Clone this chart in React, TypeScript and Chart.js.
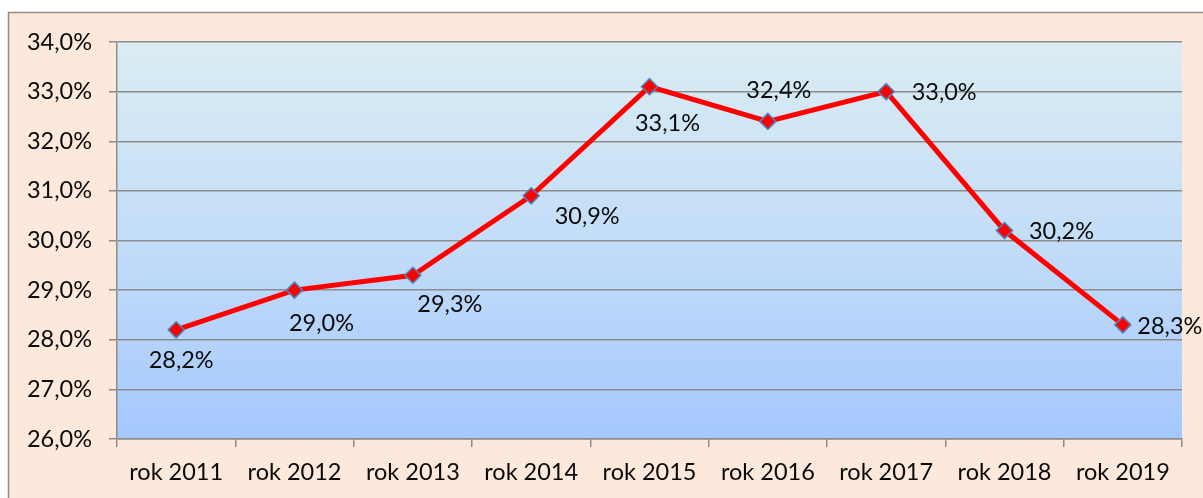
import React, { useEffect, useRef } from "react";
import { Chart, registerables } from "chart.js";

Chart.register(...registerables);

const categories = ["rok 2011", "rok 2012", "rok 2013", "rok 2014", "rok 2015", "rok 2016", "rok 2017", "rok 2018", "rok 2019"];
const values = [28.2, 29.0, 29.3, 30.9, 33.1, 32.4, 33.0, 30.2, 28.3];
const yMin = 26;
const yMax = 34;
const yStep = 1;
// label offsets relative to each point (dx, dy)
const labelOffsetX = [5, 27, 37, 56, 18, 11, 58, 57, 47];
const labelOffsetY = [31, 33, 29, 21, 37, -31, 1, 1, 2];

const FONT = "Lato, 'Open Sans', sans-serif";
const FS = 23.5;

const fmt = (v: number) => v.toFixed(1).replace(".", ",") + "%";

const bgPlugin = {
  id: "bgPlugin",
  beforeDraw(chart: any) {
    const { ctx, width, height, chartArea } = chart;
    ctx.save();
    ctx.fillStyle = "#ffffff";
    ctx.fillRect(0, 0, width, height);
    ctx.fillStyle = "#FDE9DB";
    ctx.fillRect(8, 12, width, height);
    ctx.strokeStyle = "#8c8c8c";
    ctx.lineWidth = 1.5;
    ctx.beginPath();
    ctx.moveTo(8.5, height + 2);
    ctx.lineTo(8.5, 12.5);
    ctx.lineTo(width + 2, 12.5);
    ctx.stroke();
    const g = ctx.createLinearGradient(0, chartArea.top, 0, chartArea.bottom);
    g.addColorStop(0, "#DBEDF3");
    g.addColorStop(0.5, "#C3DDF8");
    g.addColorStop(1, "#A5C8FE");
    ctx.fillStyle = g;
    ctx.fillRect(chartArea.left, chartArea.top, chartArea.right - chartArea.left, chartArea.bottom - chartArea.top);
    ctx.restore();
  },
};

const labelPlugin = {
  id: "labelPlugin",
  afterDatasetsDraw(chart: any) {
    const { ctx } = chart;
    const meta = chart.getDatasetMeta(0);
    ctx.save();
    ctx.font = `${FS}px ${FONT}`;
    ctx.fillStyle = "#0a0a0a";
    ctx.textAlign = "center";
    ctx.textBaseline = "middle";
    meta.data.forEach((pt: any, i: number) => {
      ctx.fillText(fmt(values[i]), pt.x + labelOffsetX[i], pt.y + labelOffsetY[i]);
    });
    ctx.restore();
  },
};

export default function App() {
  const ref = useRef<HTMLCanvasElement | null>(null);
  useEffect(() => {
    if (!ref.current) return;
    const chart = new Chart(ref.current, {
      type: "line",
      data: {
        labels: categories,
        datasets: [
          {
            data: values,
            borderColor: "#FF0000",
            borderWidth: 5,
            pointStyle: "rectRot",
            pointRadius: 8,
            pointBackgroundColor: "#FF0000",
            pointBorderColor: "#4F81BD",
            pointBorderWidth: 1.5,
            tension: 0,
          },
        ],
      },
      options: {
        responsive: false,
        animation: false,
        devicePixelRatio: 1,
        layout: { padding: { left: 0, top: 42, right: 21, bottom: 0 } },
        plugins: { legend: { display: false }, tooltip: { enabled: false } },
        scales: {
          x: {
            offset: true,
            grid: { drawOnChartArea: false, drawTicks: true, tickLength: 8, color: "#8c8c8c", lineWidth: 1.5, offset: true },
            border: { color: "#8c8c8c", width: 1.5 },
            ticks: { color: "#0a0a0a", font: { family: FONT, size: FS }, padding: 11, maxRotation: 0, autoSkip: false },
            afterFit: (s: any) => { s.height = 59; },
          },
          y: {
            min: yMin,
            max: yMax,
            grid: { color: "#8c8c8c", lineWidth: 1.5, tickLength: 8 },
            border: { color: "#8c8c8c", width: 1.5 },
            ticks: { stepSize: yStep, color: "#0a0a0a", font: { family: FONT, size: FS }, padding: 17, callback: (v: any) => fmt(Number(v)) },
            afterFit: (s: any) => { s.width = 117; },
          },
        },
      },
      plugins: [bgPlugin, labelPlugin],
    });
    return () => chart.destroy();
  }, []);
  return (
    <div style={{ position: "fixed", left: 0, top: 0, width: 1203, height: 498 }}>
      <canvas ref={ref} width={1203} height={498} style={{ width: 1203, height: 498, display: "block" }} />
    </div>
  );
}
